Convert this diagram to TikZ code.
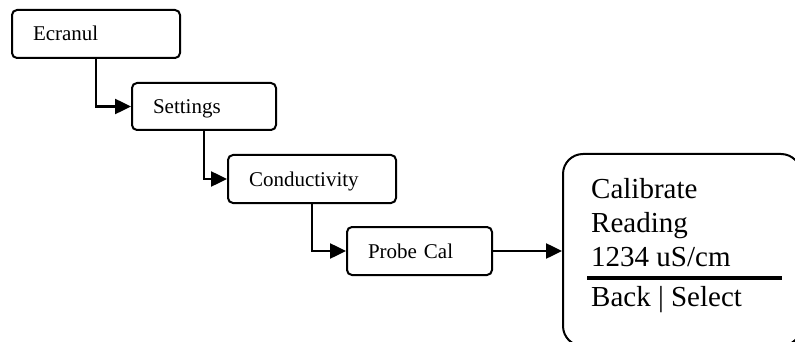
\documentclass[tikz,border=0pt]{standalone}
\usepackage{fontspec}
\setmainfont{Liberation Serif}
\usetikzlibrary{arrows.meta,calc}
\begin{document}
\begin{tikzpicture}[x=1pt,y=-1pt,
  smallbox/.style={draw,line width=2pt,rounded corners=5pt,inner xsep=21pt,inner ysep=0pt,
     text height=14pt,text depth=0pt,align=left,font=\fontsize{21}{24}\selectfont},
  conn/.style={line width=2.5pt,-{Triangle[length=16pt,width=15pt]}},
  bigtxt/.style={inner sep=0pt,anchor=base west,font=\fontsize{29}{34}\selectfont}]
\useasboundingbox (0,0) rectangle (795,342);
\node[smallbox,text width=126pt,minimum height=48pt] (ecr) at (96,34) {Ecranul};
\node[smallbox,text width=102pt,minimum height=47pt] (set) at (204,106.5) {Settings};
\node[smallbox,text width=126pt,minimum height=48pt] (con) at (312,179) {Conductivity};
\node[smallbox,text width=103pt,minimum height=48pt] (prb) at (419.5,251) {Probe Cal};
\node[draw,line width=2pt,rounded corners=20pt,minimum width=238pt,minimum height=192pt,inner sep=0pt] (big) at (682,250) {};
\draw[conn] (ecr.south) |- (set.west);
\draw[conn] (set.south) |- (con.west);
\draw[conn] (con.south) |- (prb.west);
\draw[conn] (prb.east) -- (prb.east -| big.west);
\node[bigtxt] (l1) at (591,198) {Calibrate};
\node[bigtxt] (l2) at (591,232) {Reading};
\node[bigtxt] (l3) at (591,266) {1234 uS/cm};
\node[bigtxt] (l4) at (591,306) {Back | Select};
\draw[line width=4pt] (587,278) -- (782,278);
\end{tikzpicture}
\end{document}
